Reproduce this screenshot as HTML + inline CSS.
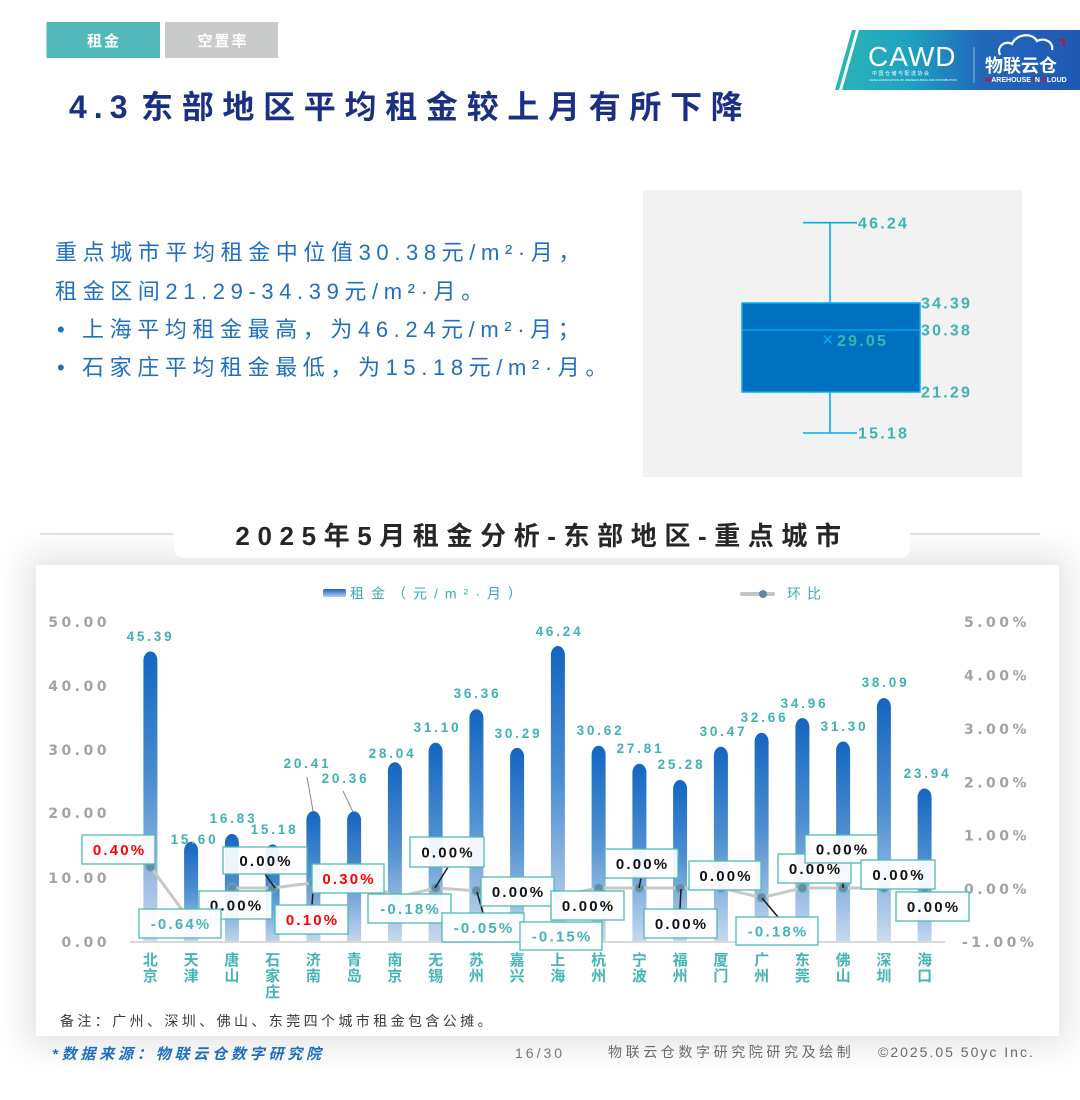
<!DOCTYPE html>
<html>
<head>
<meta charset="utf-8">
<style>
html,body{margin:0;padding:0;background:#fff;}
body{width:1080px;height:1100px;position:relative;overflow:hidden;}
#panel{position:absolute;left:36px;top:565px;width:1023px;height:471px;background:#fff;box-shadow:0 0 30px 10px rgba(0,0,0,0.11);}
#tbox{position:absolute;left:174px;top:496px;width:736px;height:62px;background:#fff;border-radius:0 0 10px 10px;}
svg{position:absolute;left:0;top:0;}
text{font-family:"Liberation Sans","Noto Sans CJK SC",sans-serif;}
.dj{font-family:"DejaVu Sans","Noto Sans CJK SC",sans-serif;font-weight:bold;}
.tick{font-size:14px;fill:#a3a3a3;letter-spacing:3.5px;}
.val{font-size:13.5px;fill:#3fb1b1;letter-spacing:2.8px;}
.pct{font-size:15px;letter-spacing:2.2px;}
.cat{font-family:"Liberation Sans","Noto Sans CJK SC",sans-serif;font-size:15px;font-weight:bold;fill:#45b4b4;}
.lbl{fill:#fff;fill-opacity:0.92;stroke:#4fb9b6;stroke-width:1.3;}
.bp{font-size:16px;font-weight:bold;fill:#3fb3b1;letter-spacing:2.2px;}
.body{font-family:"Liberation Sans","Noto Sans CJK SC",sans-serif;font-size:22px;fill:#1f6fc2;letter-spacing:5.6px;}
</style>
</head>
<body>
<div id="panel"></div>
<div id="tbox"></div>
<svg width="1080" height="1100" viewBox="0 0 1080 1100" xmlns="http://www.w3.org/2000/svg">
<defs>
  <linearGradient id="bg" x1="0" y1="0" x2="0" y2="1">
    <stop offset="0" stop-color="#1366c1"/>
    <stop offset="0.45" stop-color="#4f8fd1"/>
    <stop offset="1" stop-color="#d4e0f1"/>
  </linearGradient>
  <linearGradient id="lg" x1="0" y1="0" x2="0" y2="1">
    <stop offset="0" stop-color="#1566c2"/>
    <stop offset="1" stop-color="#b5cdea"/>
  </linearGradient>
  <linearGradient id="logoG" x1="835" y1="0" x2="1080" y2="0" gradientUnits="userSpaceOnUse">
    <stop offset="0" stop-color="#2ab5b6"/>
    <stop offset="0.3" stop-color="#1fa2c2"/>
    <stop offset="0.6" stop-color="#2168bb"/>
    <stop offset="1" stop-color="#1f58b3"/>
  </linearGradient>
  <clipPath id="cb"><rect x="100" y="560" width="900" height="381.5"/></clipPath>
</defs>

<!-- tabs -->
<rect x="46.5" y="22" width="113.5" height="36" fill="#52b8bb"/>
<text x="104" y="46" text-anchor="middle" font-size="15" font-weight="bold" fill="#fff" letter-spacing="2">租金</text>
<rect x="165" y="22" width="113" height="36" fill="#c9caca"/>
<text x="223" y="46" text-anchor="middle" font-size="15" font-weight="bold" fill="#fff" letter-spacing="2">空置率</text>

<!-- title -->
<text y="118" font-size="32" font-weight="bold" fill="#1b3082"><tspan x="69" letter-spacing="7">4.3</tspan><tspan x="141" letter-spacing="8.7">东部地区平均租金较上月有所下降</tspan></text>

<!-- logo -->
<polygon points="852,30 856,30 839,90 835,90" fill="#2ab5b6"/>
<polygon points="859,30 1080,30 1080,90 842,90" fill="url(#logoG)"/>
<text x="868" y="66" font-size="28" fill="#fff" letter-spacing="1">CAWD</text>
<text x="872" y="75" font-size="5" fill="#fff" letter-spacing="1.5">中国仓储与配送协会</text>
<text x="869" y="81" font-size="3" fill="#fff">CHINA ASSOCIATION OF WAREHOUSING AND DISTRIBUTION</text>
<line x1="974" y1="47" x2="974" y2="83" stroke="#fff" stroke-opacity="0.5" stroke-width="1"/>
<path d="M1000,55 C996,46 1006,40 1012,44 C1016,34 1032,32 1037,41 C1044,37 1054,42 1052,50" fill="none" stroke="#fff" stroke-width="2.2"/>
<path d="M1058,40 L1064,40 L1064,46" fill="none" stroke="#e60012" stroke-width="1.6"/>
<text x="985" y="72" font-size="18" font-weight="bold" fill="#fff" letter-spacing="0">物联云仓</text>
<text x="985" y="82" font-size="7" font-weight="bold" fill="#fff"><tspan fill="#e60012">W</tspan>AREHOUSE <tspan fill="#e60012">I</tspan>N <tspan fill="#e60012">C</tspan>LOUD</text>

<!-- left text block -->
<text class="body" x="55" y="260">重点城市平均租金中位值30.38元/m²·月，</text>
<text class="body" x="55" y="299">租金区间21.29-34.39元/m²·月。</text>
<text class="body" x="57" y="337">•</text>
<text class="body" x="82" y="337">上海平均租金最高，为46.24元/m²·月；</text>
<text class="body" x="57" y="375">•</text>
<text class="body" x="82" y="375">石家庄平均租金最低，为15.18元/m²·月。</text>

<!-- box plot -->
<rect x="643" y="190" width="379" height="287" fill="#f2f2f2"/>
<line x1="830" y1="222.7" x2="830" y2="303" stroke="#00aeef" stroke-width="1.6"/>
<line x1="830" y1="392" x2="830" y2="433" stroke="#00aeef" stroke-width="1.6"/>
<line x1="803" y1="222.7" x2="857" y2="222.7" stroke="#00aeef" stroke-width="1.6"/>
<line x1="803" y1="433" x2="857" y2="433" stroke="#00aeef" stroke-width="1.6"/>
<rect x="742" y="303" width="178" height="89" fill="#0070c0" stroke="#00b0f0" stroke-width="1.5"/>
<line x1="742" y1="330" x2="920" y2="330" stroke="#00b0f0" stroke-width="1.2"/>
<text x="822" y="346" font-size="19" fill="#00b0f0">×</text>
<text class="bp" x="837" y="346">29.05</text>
<text class="bp" x="858" y="228.5">46.24</text>
<text class="bp" x="921" y="308.5">34.39</text>
<text class="bp" x="921" y="335.5">30.38</text>
<text class="bp" x="921" y="397.5">21.29</text>
<text class="bp" x="858" y="438.5">15.18</text>

<!-- chart title -->
<line x1="40" y1="534" x2="173" y2="534" stroke="#cfcfcf" stroke-width="1.2"/>
<line x1="910" y1="534" x2="1040" y2="534" stroke="#cfcfcf" stroke-width="1.2"/>
<text x="542" y="545" text-anchor="middle" font-size="26" font-weight="bold" fill="#262626" letter-spacing="7.6">2025年5月租金分析-东部地区-重点城市</text>

<!-- legend -->
<rect x="323" y="589" width="23" height="8" rx="2" fill="url(#lg)"/>
<text x="350" y="598.5" font-size="14" fill="#3aabb0" letter-spacing="7">租金（元/m²·月）</text>
<line x1="742" y1="594" x2="773" y2="594" stroke="#c4c4c4" stroke-width="4" stroke-linecap="round"/>
<circle cx="763" cy="594" r="4" fill="#5f87a5"/>
<text x="787" y="598.5" font-size="14" fill="#3aabb0" letter-spacing="6">环比</text>

<!-- axes labels left -->
<text class="dj tick" x="110" y="627" text-anchor="end">50.00</text>
<text class="dj tick" x="110" y="691" text-anchor="end">40.00</text>
<text class="dj tick" x="110" y="755" text-anchor="end">30.00</text>
<text class="dj tick" x="110" y="818" text-anchor="end">20.00</text>
<text class="dj tick" x="110" y="883" text-anchor="end">10.00</text>
<text class="dj tick" x="110" y="947" text-anchor="end">0.00</text>
<!-- right -->
<text class="dj tick" x="964" y="627">5.00%</text>
<text class="dj tick" x="964" y="680.5">4.00%</text>
<text class="dj tick" x="964" y="734">3.00%</text>
<text class="dj tick" x="964" y="787.5">2.00%</text>
<text class="dj tick" x="964" y="840.5">1.00%</text>
<text class="dj tick" x="964" y="894">0.00%</text>
<text class="dj tick" x="962" y="947">-1.00%</text>

<!-- bars -->
<g clip-path="url(#cb)" fill="url(#bg)">
<rect x="143.4" y="651.5" width="14" height="300" rx="7" ry="9"/>
<rect x="184.1" y="841.8" width="14" height="109.7" rx="7" ry="9"/>
<rect x="224.9" y="834" width="14" height="117.5" rx="7" ry="9"/>
<rect x="265.6" y="844.5" width="14" height="107" rx="7" ry="9"/>
<rect x="306.4" y="811.1" width="14" height="140.4" rx="7" ry="9"/>
<rect x="347.1" y="811.4" width="14" height="140.1" rx="7" ry="9"/>
<rect x="387.9" y="762.3" width="14" height="189.2" rx="7" ry="9"/>
<rect x="428.6" y="742.8" width="14" height="208.7" rx="7" ry="9"/>
<rect x="469.4" y="709.2" width="14" height="242.3" rx="7" ry="9"/>
<rect x="510.1" y="747.9" width="14" height="203.6" rx="7" ry="9"/>
<rect x="550.9" y="646" width="14" height="305.5" rx="7" ry="9"/>
<rect x="591.6" y="745.8" width="14" height="205.7" rx="7" ry="9"/>
<rect x="632.4" y="763.8" width="14" height="187.7" rx="7" ry="9"/>
<rect x="673.1" y="780" width="14" height="171.5" rx="7" ry="9"/>
<rect x="713.9" y="746.8" width="14" height="204.7" rx="7" ry="9"/>
<rect x="754.6" y="732.8" width="14" height="218.7" rx="7" ry="9"/>
<rect x="795.4" y="718.1" width="14" height="233.4" rx="7" ry="9"/>
<rect x="836.1" y="741.5" width="14" height="210" rx="7" ry="9"/>
<rect x="876.9" y="698.1" width="14" height="253.4" rx="7" ry="9"/>
<rect x="917.6" y="788.5" width="14" height="163" rx="7" ry="9"/>
</g>
<line x1="130" y1="942" x2="945" y2="942" stroke="#d9d9d9" stroke-width="2"/>

<!-- value labels -->
<g class="dj val" text-anchor="middle">
<text x="150.5" y="641">45.39</text>
<text x="194.5" y="844">15.60</text>
<text x="233.5" y="823">16.83</text>
<text x="274.5" y="834">15.18</text>
<text x="307.5" y="768">20.41</text>
<text x="345.5" y="783">20.36</text>
<text x="392.5" y="758">28.04</text>
<text x="437.5" y="732">31.10</text>
<text x="477.5" y="698">36.36</text>
<text x="518.5" y="738">30.29</text>
<text x="559.5" y="636">46.24</text>
<text x="600.5" y="735">30.62</text>
<text x="640.5" y="753">27.81</text>
<text x="681.5" y="769">25.28</text>
<text x="723.5" y="736">30.47</text>
<text x="764.5" y="722">32.66</text>
<text x="804.5" y="708">34.96</text>
<text x="844.5" y="731">31.30</text>
<text x="885.5" y="687">38.09</text>
<text x="927.5" y="778">23.94</text>
</g>
<line x1="307" y1="777" x2="313" y2="811" stroke="#8a8a8a" stroke-width="1"/>
<line x1="343" y1="791" x2="353" y2="812" stroke="#8a8a8a" stroke-width="1"/>

<!-- line series -->
<polyline fill="none" stroke="#c8c8c8" stroke-width="3" stroke-linejoin="round"
 points="150.4,866.7 191.1,922.1 231.9,888 272.6,888 313.4,882.7 354.1,872 394.9,897.6 435.6,888 476.4,890.7 517.1,888 557.9,896 598.6,888 639.4,888 680.1,888 720.9,888 761.6,897.6 802.4,888 843.1,888 883.9,888 924.6,888"/>
<g fill="#6a8aa6" stroke="#5fb8b8" stroke-width="1">
<circle cx="150.4" cy="866.7" r="4.5"/><circle cx="191.1" cy="922.1" r="4.5"/><circle cx="231.9" cy="888" r="4.5"/><circle cx="272.6" cy="888" r="4.5"/><circle cx="313.4" cy="882.7" r="4.5"/><circle cx="354.1" cy="872" r="4.5"/><circle cx="394.9" cy="897.6" r="4.5"/><circle cx="435.6" cy="888" r="4.5"/><circle cx="476.4" cy="890.7" r="4.5"/><circle cx="517.1" cy="888" r="4.5"/><circle cx="557.9" cy="896" r="4.5"/><circle cx="598.6" cy="888" r="4.5"/><circle cx="639.4" cy="888" r="4.5"/><circle cx="680.1" cy="888" r="4.5"/><circle cx="720.9" cy="888" r="4.5"/><circle cx="761.6" cy="897.6" r="4.5"/><circle cx="802.4" cy="888" r="4.5"/><circle cx="843.1" cy="888" r="4.5"/><circle cx="883.9" cy="888" r="4.5"/><circle cx="924.6" cy="888" r="4.5"/>
</g>

<!-- leader lines -->
<g stroke="#1a1a1a" stroke-width="1.5">
<line x1="265" y1="874" x2="275" y2="888"/>
<line x1="313" y1="890" x2="312" y2="905"/>
<line x1="448" y1="867" x2="435" y2="888"/>
<line x1="477" y1="892" x2="483" y2="913"/>
<line x1="641" y1="878" x2="639" y2="888"/>
<line x1="681" y1="889" x2="680" y2="909"/>
<line x1="762" y1="898" x2="778" y2="917"/>
<line x1="843" y1="882" x2="843" y2="888"/>
</g>
<line x1="559" y1="897" x2="559" y2="922" stroke="#cfcfcf" stroke-width="1"/>

<!-- percent labels -->
<g class="dj pct" text-anchor="middle">
<rect class="lbl" x="199" y="891" width="73" height="28"/><text x="236.6" y="910.5" fill="#111">0.00%</text>
<rect class="lbl" x="139" y="909" width="82" height="29"/><text x="181.1" y="929" fill="#45b3b3">-0.64%</text>
<rect class="lbl" x="82" y="835" width="73" height="29"/><text x="119.6" y="855" fill="#ff0000">0.40%</text>
<rect class="lbl" x="223" y="847" width="84" height="27"/><text x="266.1" y="866" fill="#111">0.00%</text>
<rect class="lbl" x="275" y="905" width="73" height="29"/><text x="312.6" y="925" fill="#ff0000">0.10%</text>
<rect class="lbl" x="312" y="864" width="72" height="29"/><text x="349.1" y="884" fill="#ff0000">0.30%</text>
<rect class="lbl" x="368" y="894" width="83" height="29"/><text x="410.6" y="914" fill="#45b3b3">-0.18%</text>
<rect class="lbl" x="410" y="837" width="74" height="30"/><text x="448.1" y="857.5" fill="#111">0.00%</text>
<rect class="lbl" x="442" y="913" width="82" height="29"/><text x="484.1" y="933" fill="#45b3b3">-0.05%</text>
<rect class="lbl" x="481" y="877" width="73" height="29"/><text x="518.6" y="897" fill="#111">0.00%</text>
<rect class="lbl" x="520" y="922" width="82" height="28"/><text x="562.1" y="941.5" fill="#45b3b3">-0.15%</text>
<rect class="lbl" x="551" y="891" width="73" height="29"/><text x="588.6" y="911" fill="#111">0.00%</text>
<rect class="lbl" x="605" y="849" width="73" height="29"/><text x="642.6" y="869" fill="#111">0.00%</text>
<rect class="lbl" x="644" y="909" width="73" height="29"/><text x="681.6" y="929" fill="#111">0.00%</text>
<rect class="lbl" x="689" y="861" width="72" height="29"/><text x="726.1" y="881" fill="#111">0.00%</text>
<rect class="lbl" x="736" y="917" width="82" height="28"/><text x="778.1" y="936.5" fill="#45b3b3">-0.18%</text>
<rect class="lbl" x="778" y="854" width="73" height="29"/><text x="815.6" y="874" fill="#111">0.00%</text>
<rect class="lbl" x="805" y="835" width="73" height="28"/><text x="842.6" y="854.5" fill="#111">0.00%</text>
<rect class="lbl" x="861" y="860" width="74" height="29"/><text x="899.1" y="880" fill="#111">0.00%</text>
<rect class="lbl" x="896" y="892" width="73" height="29"/><text x="933.6" y="912" fill="#111">0.00%</text>
</g>

<!-- category labels -->
<g class="cat" text-anchor="middle">
<text x="150.4" y="965">北</text><text x="150.4" y="981">京</text>
<text x="191.1" y="965">天</text><text x="191.1" y="981">津</text>
<text x="231.9" y="965">唐</text><text x="231.9" y="981">山</text>
<text x="272.6" y="965">石</text><text x="272.6" y="981">家</text><text x="272.6" y="997">庄</text>
<text x="313.4" y="965">济</text><text x="313.4" y="981">南</text>
<text x="354.1" y="965">青</text><text x="354.1" y="981">岛</text>
<text x="394.9" y="965">南</text><text x="394.9" y="981">京</text>
<text x="435.6" y="965">无</text><text x="435.6" y="981">锡</text>
<text x="476.4" y="965">苏</text><text x="476.4" y="981">州</text>
<text x="517.1" y="965">嘉</text><text x="517.1" y="981">兴</text>
<text x="557.9" y="965">上</text><text x="557.9" y="981">海</text>
<text x="598.6" y="965">杭</text><text x="598.6" y="981">州</text>
<text x="639.4" y="965">宁</text><text x="639.4" y="981">波</text>
<text x="680.1" y="965">福</text><text x="680.1" y="981">州</text>
<text x="720.9" y="965">厦</text><text x="720.9" y="981">门</text>
<text x="761.6" y="965">广</text><text x="761.6" y="981">州</text>
<text x="802.4" y="965">东</text><text x="802.4" y="981">莞</text>
<text x="843.1" y="965">佛</text><text x="843.1" y="981">山</text>
<text x="883.9" y="965">深</text><text x="883.9" y="981">圳</text>
<text x="924.6" y="965">海</text><text x="924.6" y="981">口</text>
</g>

<!-- notes & footer -->
<text x="60" y="1026" font-size="14" fill="#3a3a3a" letter-spacing="3.4">备注：广州、深圳、佛山、东莞四个城市租金包含公摊。</text>
<text x="52" y="1059" font-size="15" font-style="italic" font-weight="bold" fill="#1e6ebf" letter-spacing="3.8">*数据来源：物联云仓数字研究院</text>
<text x="515" y="1058" font-size="14" fill="#777" letter-spacing="3">16/30</text>
<text x="608" y="1057" font-size="14" fill="#6b6b6b" letter-spacing="3.6">物联云仓数字研究院研究及绘制</text>
<text x="878" y="1057" font-size="14" fill="#6b6b6b" letter-spacing="2">©2025.05 50yc Inc.</text>
</svg>
</body>
</html>
